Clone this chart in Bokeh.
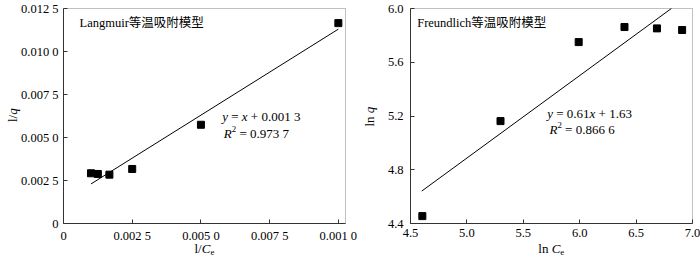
import math
from bokeh.plotting import figure
from bokeh.models import Label, FixedTicker, Range1d, BoxAnnotation
from bokeh.layouts import row
from bokeh.embed import file_html
from bokeh.resources import INLINE

# ---------------- data ----------------
inv_ce = [0.001, 0.00125, 0.00167, 0.0025, 0.005, 0.01]
inv_q = [0.00292, 0.00288, 0.00284, 0.00317, 0.00574, 0.01165]
lang_fit_x = [0.001, 0.01]
lang_slope = 1.0
lang_intercept = 0.0013
lang_x_lim = [0, 0.01026]
lang_y_lim = [0, 0.0125]
lang_x_ticks = [0, 0.0025, 0.005, 0.0075, 0.01]
lang_x_labels = ["0", "0.002 5", "0.005 0", "0.007 5", "0.001 0"]
lang_y_ticks = [0, 0.0025, 0.005, 0.0075, 0.01, 0.0125]
lang_y_labels = ["0", "0.002 5", "0.005 0", "0.007 5", "0.010 0", "0.012 5"]

ln_ce = [4.605, 5.298, 5.991, 6.397, 6.685, 6.908]
ln_q = [4.455, 5.162, 5.750, 5.862, 5.852, 5.840]
freu_slope = 0.614
freu_intercept = 1.817
freu_x_lim = [4.5, 7.0]
freu_y_lim = [4.4, 6.0]
freu_fit_x = [4.6, (freu_y_lim[1] - freu_intercept) / freu_slope]
freu_x_ticks = [4.5, 5.0, 5.5, 6.0, 6.5, 7.0]
freu_x_labels = ["4.5", "5.0", "5.5", "6.0", "6.5", "7.0"]
freu_y_ticks = [4.4, 4.8, 5.2, 5.6, 6.0]
freu_y_labels = ["4.4", "4.8", "5.2", "5.6", "6.0"]

FONT = "Liberation Serif"
CJK_FONT = "Liberation Serif, Noto Sans CJK SC"
AX = "#333333"
NB = "\u00a0"
H = 259

W_REG = {"0": 500, "1": 500, "2": 500, "3": 500, "4": 500, "5": 500, "6": 500,
         "7": 500, "8": 500, "9": 500, ".": 250, " ": 250, "=": 564, "+": 564,
         "l": 278, "n": 500, "/": 278, "e": 444, "x": 500}
W_IT = {"x": 444, "y": 444, "R": 611, "C": 667, "q": 500}


def text_width(txt, style):
    table = W_IT if style == "italic" else W_REG
    return sum(table.get(c, 500) for c in txt) / 1000.0


def rich(p, x, y, runs, size=13.0, angle=0.0):
    pos = 0.0
    for txt, style, kind in runs:
        s = size * 0.68 if kind in ("sup", "sub") else size
        shift = size * 0.36 if kind == "sup" else (-size * 0.28 if kind == "sub" else 0.0)
        if angle == 0.0:
            lx, ly = x + pos, y + shift
        else:
            lx, ly = x - shift, y + pos
        p.add_layout(Label(x=lx, y=ly, x_units="screen", y_units="screen",
                           text=txt.replace(" ", NB), text_font=FONT,
                           text_font_size=f"{s:.1f}px", text_font_style=style,
                           text_color="black", text_align="left",
                           text_baseline="middle", angle=angle))
        pos += text_width(txt, style) * s


def span(d0, d1, p0, p1, total):
    k = (p1 - p0) / (d1 - d0)
    return Range1d(d0 - p0 / k, d0 + (total - p0) / k)


def make_fig(width, xlim, ylim, box_x):
    # plot box: box_x = (left px, right px); top 8 px, bottom 223 px from the top
    xr = span(xlim[0], xlim[1], box_x[0], box_x[1], width)
    yr = span(ylim[0], ylim[1], H - 223, H - 8, H)
    p = figure(frame_width=width, frame_height=H, min_border=0, x_range=xr, y_range=yr,
               output_backend="svg", toolbar_location=None)
    p.grid.visible = False
    p.outline_line_color = None
    xa, ya = p.xaxis[0], p.yaxis[0]
    xa.fixed_location = ylim[0]
    xa.bounds = (xlim[0], xlim[1])
    ya.fixed_location = xlim[0]
    ya.bounds = (ylim[0], ylim[1])
    for ax in (xa, ya):
        ax.axis_line_color = AX
        ax.major_tick_line_color = AX
        ax.major_tick_in = 4
        ax.major_tick_out = 0
        ax.minor_tick_line_color = None
        ax.major_label_text_font = FONT
        ax.major_label_text_font_size = "12.5px"
        ax.major_label_text_color = "black"
        ax.major_label_standoff = 5
    p.add_layout(BoxAnnotation(left=xlim[0], right=xlim[1], bottom=ylim[0], top=ylim[1],
                               fill_color=None, fill_alpha=0, line_color=AX, line_width=1,
                               level="underlay"))
    return p


# ---------------- Langmuir ----------------
p1 = make_fig(360, lang_x_lim, lang_y_lim, (63, 345))
p1.xaxis[0].ticker = FixedTicker(ticks=lang_x_ticks)
p1.xaxis[0].major_label_overrides = dict(zip(lang_x_ticks, lang_x_labels))
p1.yaxis[0].ticker = FixedTicker(ticks=lang_y_ticks)
p1.yaxis[0].major_label_overrides = dict(zip(lang_y_ticks, lang_y_labels))
p1.line(lang_fit_x, [lang_slope * v + lang_intercept for v in lang_fit_x],
        line_color="black", line_width=1)
p1.scatter(inv_ce, inv_q, marker="square", size=7, fill_color="black", line_color="black")
p1.add_layout(Label(x=79, y=236.5, x_units="screen", y_units="screen",
                    text="Langmuir等温吸附模型", text_font=CJK_FONT, text_font_size="12.5px",
                    text_color="black", text_baseline="middle"))
rich(p1, 221.7, 143.0, [("y", "italic", ""), (" = ", "normal", ""), ("x", "italic", ""),
                        (" + 0.001 3", "normal", "")])
rich(p1, 223.3, 126.3, [("R", "italic", ""), ("2", "normal", "sup"), (" = 0.973 7", "normal", "")])
rich(p1, 194.0, 11.0, [("l/", "normal", ""), ("C", "italic", ""), ("e", "normal", "sub")])
rich(p1, 12.0, 137.5, [("l/", "normal", ""), ("q", "italic", "")], angle=math.pi / 2)

# ---------------- Freundlich ----------------
p2 = make_fig(340, freu_x_lim, freu_y_lim, (50, 332))
p2.xaxis[0].ticker = FixedTicker(ticks=freu_x_ticks)
p2.xaxis[0].major_label_overrides = dict(zip(freu_x_ticks, freu_x_labels))
p2.yaxis[0].ticker = FixedTicker(ticks=freu_y_ticks)
p2.yaxis[0].major_label_overrides = dict(zip(freu_y_ticks, freu_y_labels))
p2.yaxis[0].major_label_standoff = 7
p2.line(freu_fit_x, [freu_slope * v + freu_intercept for v in freu_fit_x],
        line_color="black", line_width=1)
p2.scatter(ln_ce, ln_q, marker="square", size=7, fill_color="black", line_color="black")
p2.add_layout(Label(x=56.7, y=237.0, x_units="screen", y_units="screen",
                    text="Freundlich等温吸附模型", text_font=CJK_FONT, text_font_size="12.5px",
                    text_color="black", text_baseline="middle"))
rich(p2, 186.7, 145.7, [("y", "italic", ""), (" = 0.61", "normal", ""), ("x", "italic", ""),
                        (" + 1.63", "normal", "")])
rich(p2, 189.0, 130.0, [("R", "italic", ""), ("2", "normal", "sup"), (" = 0.866 6", "normal", "")])
rich(p2, 177.8, 11.0, [("ln ", "normal", ""), ("C", "italic", ""), ("e", "normal", "sub")])
rich(p2, 9.0, 133.0, [("ln ", "normal", ""), ("q", "italic", "")], angle=math.pi / 2)

layout = row(p1, p2)
open("out.html", "w").write(file_html(layout, INLINE))
